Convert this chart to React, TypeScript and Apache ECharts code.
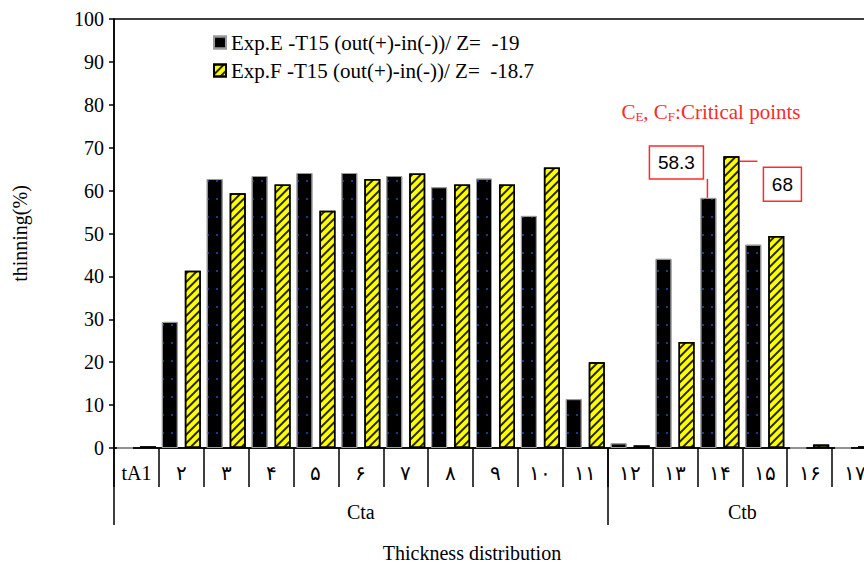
import React, { useEffect, useRef } from "react";
import * as echarts from "echarts";

const categories = ["tA1", "۲", "۳", "۴", "۵", "۶", "۷", "۸", "۹", "۱۰", "۱۱", "۱۲", "۱۳", "۱۴", "۱۵", "۱۶", "۱۷"];
const expE = [0, 29.4, 62.7, 63.4, 64.1, 64.1, 63.4, 60.8, 62.8, 54.1, 11.4, 1.1, 44.1, 58.3, 47.4, 0, 0];
const expF = [0.4, 41.3, 59.4, 61.4, 55.3, 62.7, 64.0, 61.4, 61.4, 65.4, 20.0, 0.6, 24.7, 68, 49.4, 0.8, 0.4];
const groupNames = ["Cta", "Ctb"];
const groupBounds = [0, 11, 17];
const seriesNames = ["Exp.E -T15 (out(+)-in(-))/ Z=  -19", "Exp.F -T15 (out(+)-in(-))/ Z=  -18.7"];
const criticalIndex = 13;
const criticalLabels = ["58.3", "68"];
const yTicks = { min: 0, max: 100, interval: 10 };

const SERIF = "Liberation Serif";
const BAR_W = 16;
const BAR_GAP_PX = 7;

export default function App() {
  const ref = useRef<HTMLDivElement>(null);
  useEffect(() => {
    document.body.style.margin = "0";
    if (!ref.current) return;
    const chart = echarts.init(ref.current, undefined, { renderer: "svg" });
    const groupCenters = groupBounds.slice(0, -1).map((b, i) => (b + groupBounds[i + 1]) / 2);
    const option: any = {
      animation: false,
      backgroundColor: "#fff",
      textStyle: { fontFamily: SERIF, color: "#000" },
      grid: {
        left: 114,
        top: 19,
        width: 763,
        height: 429,
        show: true,
        borderColor: "#000",
        borderWidth: 1.5,
        backgroundColor: "transparent",
        containLabel: false,
        outerBoundsMode: "none",
      },
      legend: {
        orient: "vertical",
        left: 208,
        top: 27,
        icon: "rect",
        itemWidth: 12,
        itemHeight: 12,
        itemGap: 7,
        textStyle: { fontFamily: SERIF, fontSize: 21, color: "#000" },
        data: seriesNames,
      },
      xAxis: [
        {
          type: "category",
          data: categories,
          position: "bottom",
          axisLine: { show: true, lineStyle: { color: "#000", width: 1.5 } },
          axisTick: { show: true, interval: 0, length: 39, lineStyle: { color: "#000", width: 1.5 } },
          axisLabel: {
            interval: 0,
            margin: 15,
            fontSize: 20,
            color: "#000",
            fontFamily: SERIF,
          },
          splitLine: { show: false },
        },
        {
          type: "value",
          min: groupBounds[0],
          max: groupBounds[groupBounds.length - 1],
          position: "bottom",
          offset: 0,
          axisLine: { show: false },
          axisTick: {
            show: true,
            customValues: groupBounds,
            length: 77,
            lineStyle: { color: "#000", width: 1.5 },
          },
          axisLabel: {
            show: true,
            customValues: groupCenters,
            margin: 54,
            fontSize: 20,
            color: "#000",
            fontFamily: SERIF,
            formatter: (v: number) => {
              const i = groupCenters.findIndex((c) => Math.abs(c - v) < 1e-6);
              return i >= 0 ? groupNames[i] : "";
            },
          },
          splitLine: { show: false },
        },
      ],
      yAxis: {
        type: "value",
        min: yTicks.min,
        max: yTicks.max,
        interval: yTicks.interval,
        name: "thinning(%)",
        nameLocation: "middle",
        nameGap: 84,
        nameTextStyle: { fontSize: 20, color: "#000", fontFamily: SERIF },
        axisLine: { show: true, lineStyle: { color: "#000", width: 1.5 } },
        axisTick: { show: true, length: 5, lineStyle: { color: "#000", width: 1.5 } },
        axisLabel: { margin: 10, fontSize: 20, color: "#000", fontFamily: SERIF },
        splitLine: { show: false },
      },
      series: [
        {
          name: seriesNames[0],
          type: "bar",
          data: expE,
          barWidth: BAR_W,
          barGap: `${(BAR_GAP_PX / BAR_W) * 100}%`,
          itemStyle: {
            color: "#000",
            borderColor: "#9a9a9a",
            borderWidth: 1,
            decal: {
              symbol: "rect",
              symbolSize: 1,
              color: "#1c3a86",
              dashArrayX: [[1.5, 6.5]],
              dashArrayY: [1.5, 15.5],
            },
          },
        },
        {
          name: seriesNames[1],
          type: "bar",
          data: expF,
          barWidth: BAR_W,
          itemStyle: {
            color: "#ffff00",
            borderColor: "#000",
            borderWidth: 1.5,
            decal: {
              symbol: "rect",
              symbolSize: 1,
              color: "rgba(0,0,0,0.85)",
              dashArrayX: [1, 0],
              dashArrayY: [2, 4],
              rotation: -Math.PI / 4,
            },
          },
        },
      ],
    };
    chart.setOption(option);

    const off = (BAR_W + BAR_GAP_PX) / 2;
    const pE = chart.convertToPixel({ xAxisIndex: 0, yAxisIndex: 0 }, [criticalIndex, expE[criticalIndex]]) as number[];
    const pF = chart.convertToPixel({ xAxisIndex: 0, yAxisIndex: 0 }, [criticalIndex, expF[criticalIndex]]) as number[];
    const eCx = pE[0] - off;
    const eTop = pE[1];
    const fCx = pF[0] + off;
    const fTop = pF[1];
    const red = "#ff2a2a";
    const boxE = { x: eCx - 59, y: eTop - 52, w: 54, h: 33 };
    const boxF = { x: fCx + 32, y: fTop + 11, w: 38, h: 34 };

    chart.setOption({
      graphic: [
        {
          type: "text",
          left: boxE.x - 28,
          top: boxE.y - 44,
          style: {
            text: "{a|C}{s|E}{a|, C}{s|F}{a|:Critical points}",
            rich: {
              a: { fontFamily: SERIF, fontSize: 21, fill: red, verticalAlign: "bottom", lineHeight: 24 },
              s: { fontFamily: SERIF, fontSize: 13, fill: red, verticalAlign: "bottom", lineHeight: 19 },
            },
          },
        },
        {
          type: "rect",
          shape: { x: boxE.x, y: boxE.y, width: boxE.w, height: boxE.h },
          style: { fill: "#fff", stroke: red, lineWidth: 1.5 },
        },
        {
          type: "text",
          x: boxE.x + boxE.w / 2,
          y: boxE.y + boxE.h / 2,
          style: {
            text: criticalLabels[0],
            fontFamily: "Liberation Sans",
            fontSize: 19,
            fill: "#000",
            align: "center",
            verticalAlign: "middle",
          },
        },
        {
          type: "line",
          shape: { x1: eCx - 1, y1: boxE.y + boxE.h, x2: eCx - 1, y2: eTop },
          style: { stroke: red, lineWidth: 1.5 },
        },
        {
          type: "rect",
          shape: { x: boxF.x, y: boxF.y, width: boxF.w, height: boxF.h },
          style: { fill: "#fff", stroke: red, lineWidth: 1.5 },
        },
        {
          type: "text",
          x: boxF.x + boxF.w / 2,
          y: boxF.y + boxF.h / 2,
          style: {
            text: criticalLabels[1],
            fontFamily: "Liberation Sans",
            fontSize: 19,
            fill: "#000",
            align: "center",
            verticalAlign: "middle",
          },
        },
        {
          type: "line",
          shape: { x1: fCx + 8, y1: fTop + 5, x2: fCx + 26, y2: fTop + 5 },
          style: { stroke: red, lineWidth: 1.5 },
        },
        {
          type: "text",
          x: 472,
          y: 553,
          style: {
            text: "Thickness distribution",
            fontFamily: SERIF,
            fontSize: 20,
            fill: "#000",
            align: "center",
            verticalAlign: "middle",
          },
        },
      ],
    });

    return () => chart.dispose();
  }, []);
  return <div ref={ref} style={{ width: 864, height: 563 }} />;
}
